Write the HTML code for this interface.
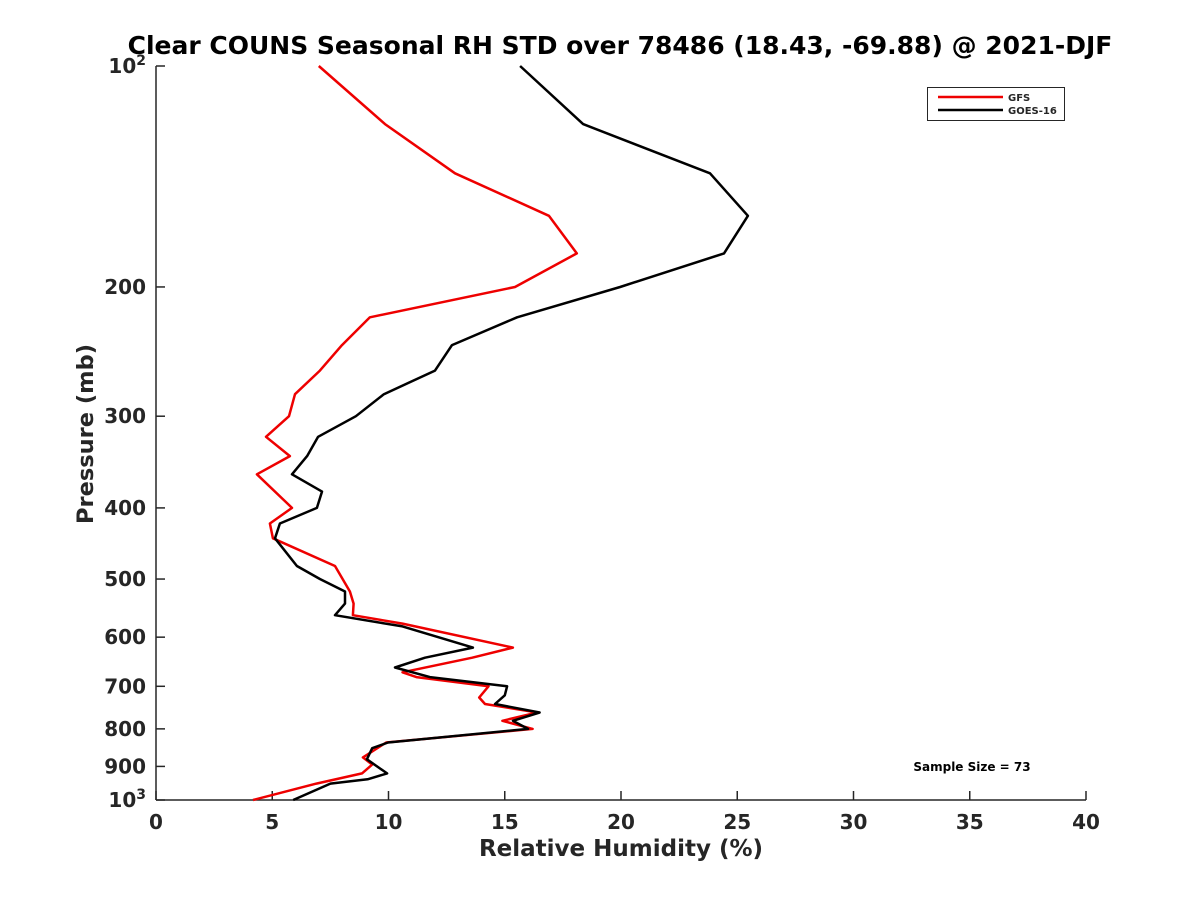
<!DOCTYPE html>
<html><head><meta charset="utf-8">
<style>
body{margin:0;background:#fff;}
svg text{font-family:"DejaVu Sans","Liberation Sans",sans-serif;font-weight:bold;fill:#262626;}
</style></head>
<body>
<svg id="chart" width="1200" height="900" viewBox="0 0 1200 900" xmlns="http://www.w3.org/2000/svg">
<rect width="1200" height="900" fill="#fff"/>
<text x="620" y="54" font-size="25" text-anchor="middle" style="fill:#000">Clear COUNS Seasonal RH STD over 78486 (18.43, -69.88) @ 2021-DJF</text>
<g id="axes"></g>
<g id="series"></g>
<text x="621" y="856" font-size="23" text-anchor="middle">Relative Humidity (%)</text>
<text transform="translate(93,434) rotate(-90)" font-size="22.5" text-anchor="middle">Pressure (mb)</text>
<g>
<rect x="927.5" y="87.5" width="137" height="33" fill="#fff" stroke="#262626" stroke-width="1"/>
<line x1="938" y1="97" x2="1003" y2="97" stroke="#ee0000" stroke-width="2.5"/>
<text x="1008" y="101" font-size="10">GFS</text>
<line x1="938" y1="110" x2="1003" y2="110" stroke="#000" stroke-width="2.5"/>
<text x="1008" y="114" font-size="10">GOES-16</text>
</g>
<text x="972" y="771" font-size="12" text-anchor="middle" style="fill:#000">Sample Size = 73</text>
</svg>
<script>
const xTicks=[0,5,10,15,20,25,30,35,40];
const yTicks=[100,200,300,400,500,600,700,800,900,1000];
const yTickLabels=["10²","200","300","400","500","600","700","800","900","10³"];
const gfsP=[100,120,140,160,180,200,220,240,260,280,300,320,340,360,400,420,440,480,520,540,560,575,620,640,670,680,700,725,740,760,780,800,835,875,895,920,950,1000];
const gfsV=[7.0,9.85,12.86,16.9,18.1,15.44,9.2,8.0,7.05,5.98,5.72,4.73,5.76,4.34,5.85,4.9,5.03,7.7,8.34,8.5,8.47,10.6,15.35,13.6,10.6,11.2,14.3,13.9,14.15,16.4,14.9,16.2,9.9,8.9,9.3,8.86,6.9,4.17];
const goesP=[100,120,140,160,180,200,220,240,260,280,300,320,340,360,380,400,420,440,480,500,520,540,560,580,620,640,660,680,700,720,740,760,780,800,835,850,880,920,937,950,1000];
const goesV=[15.66,18.37,23.83,25.46,24.43,19.96,15.53,12.73,12.0,9.8,8.6,6.97,6.5,5.85,7.14,6.92,5.33,5.12,6.06,7.05,8.13,8.13,7.7,10.6,13.63,11.57,10.28,11.78,15.1,15.0,14.58,16.5,15.35,16.0,9.98,9.3,9.07,9.94,9.1,7.5,5.9];

const X0=156,X1=1086,Y0=66,Y1=800;
function xs(v){return X0+(v-0)/(40-0)*(X1-X0);}
function ys(p){return Y0+(Math.log10(p)-2)*(Y1-Y0);}
const NS="http://www.w3.org/2000/svg";
const axes=document.getElementById('axes');
function mk(tag,attrs,parent){const e=document.createElementNS(NS,tag);for(const k in attrs)e.setAttribute(k,attrs[k]);parent.appendChild(e);return e;}
let l=mk('line',{x1:X0,y1:Y0,x2:X0,y2:Y1,stroke:'#262626','stroke-width':1.5},axes);


l=mk('line',{x1:X0,y1:Y1,x2:X1,y2:Y1,stroke:'#262626','stroke-width':1.5},axes);


xTicks.forEach(v=>{
  const x=xs(v);
  const t=mk('line',{x1:x,y1:Y1,x2:x,y2:Y1-9,stroke:'#262626','stroke-width':1.5},axes);
  
  
  const tx=mk('text',{x:x,y:Y1+29,'font-size':20,'text-anchor':'middle'},axes);
  tx.textContent=v;
  
  
});
yTicks.forEach((p,i)=>{
  const y=ys(p);
  const t=mk('line',{x1:X0,y1:y,x2:X0+9,y2:y,stroke:'#262626','stroke-width':1.5},axes);
  
  
  const tx=mk('text',{x:X0-10,y:y+7,'font-size':20,'text-anchor':'end'},axes);
  const lab=yTickLabels[i];
  if(lab.startsWith('10')&&lab.length>2){
    tx.textContent='10';
    const s=mk('tspan',{'font-size':14,dy:-8},tx);
    s.textContent=lab==='10²'?'2':'3';
  } else tx.textContent=lab;
  
  
});
const series=document.getElementById('series');
function drawLine(P,V,color,name){
  const pts=P.map((p,i)=>xs(V[i]).toFixed(1)+','+ys(p).toFixed(1)).join(' ');
  const pl=mk('polyline',{points:pts,fill:'none',stroke:color,'stroke-width':2.5,'stroke-linejoin':'round'},series);
  
  
}
drawLine(gfsP,gfsV,'#ee0000','gfs-line');
drawLine(goesP,goesV,'#000000','goes16-line');
</script>
</body></html>
